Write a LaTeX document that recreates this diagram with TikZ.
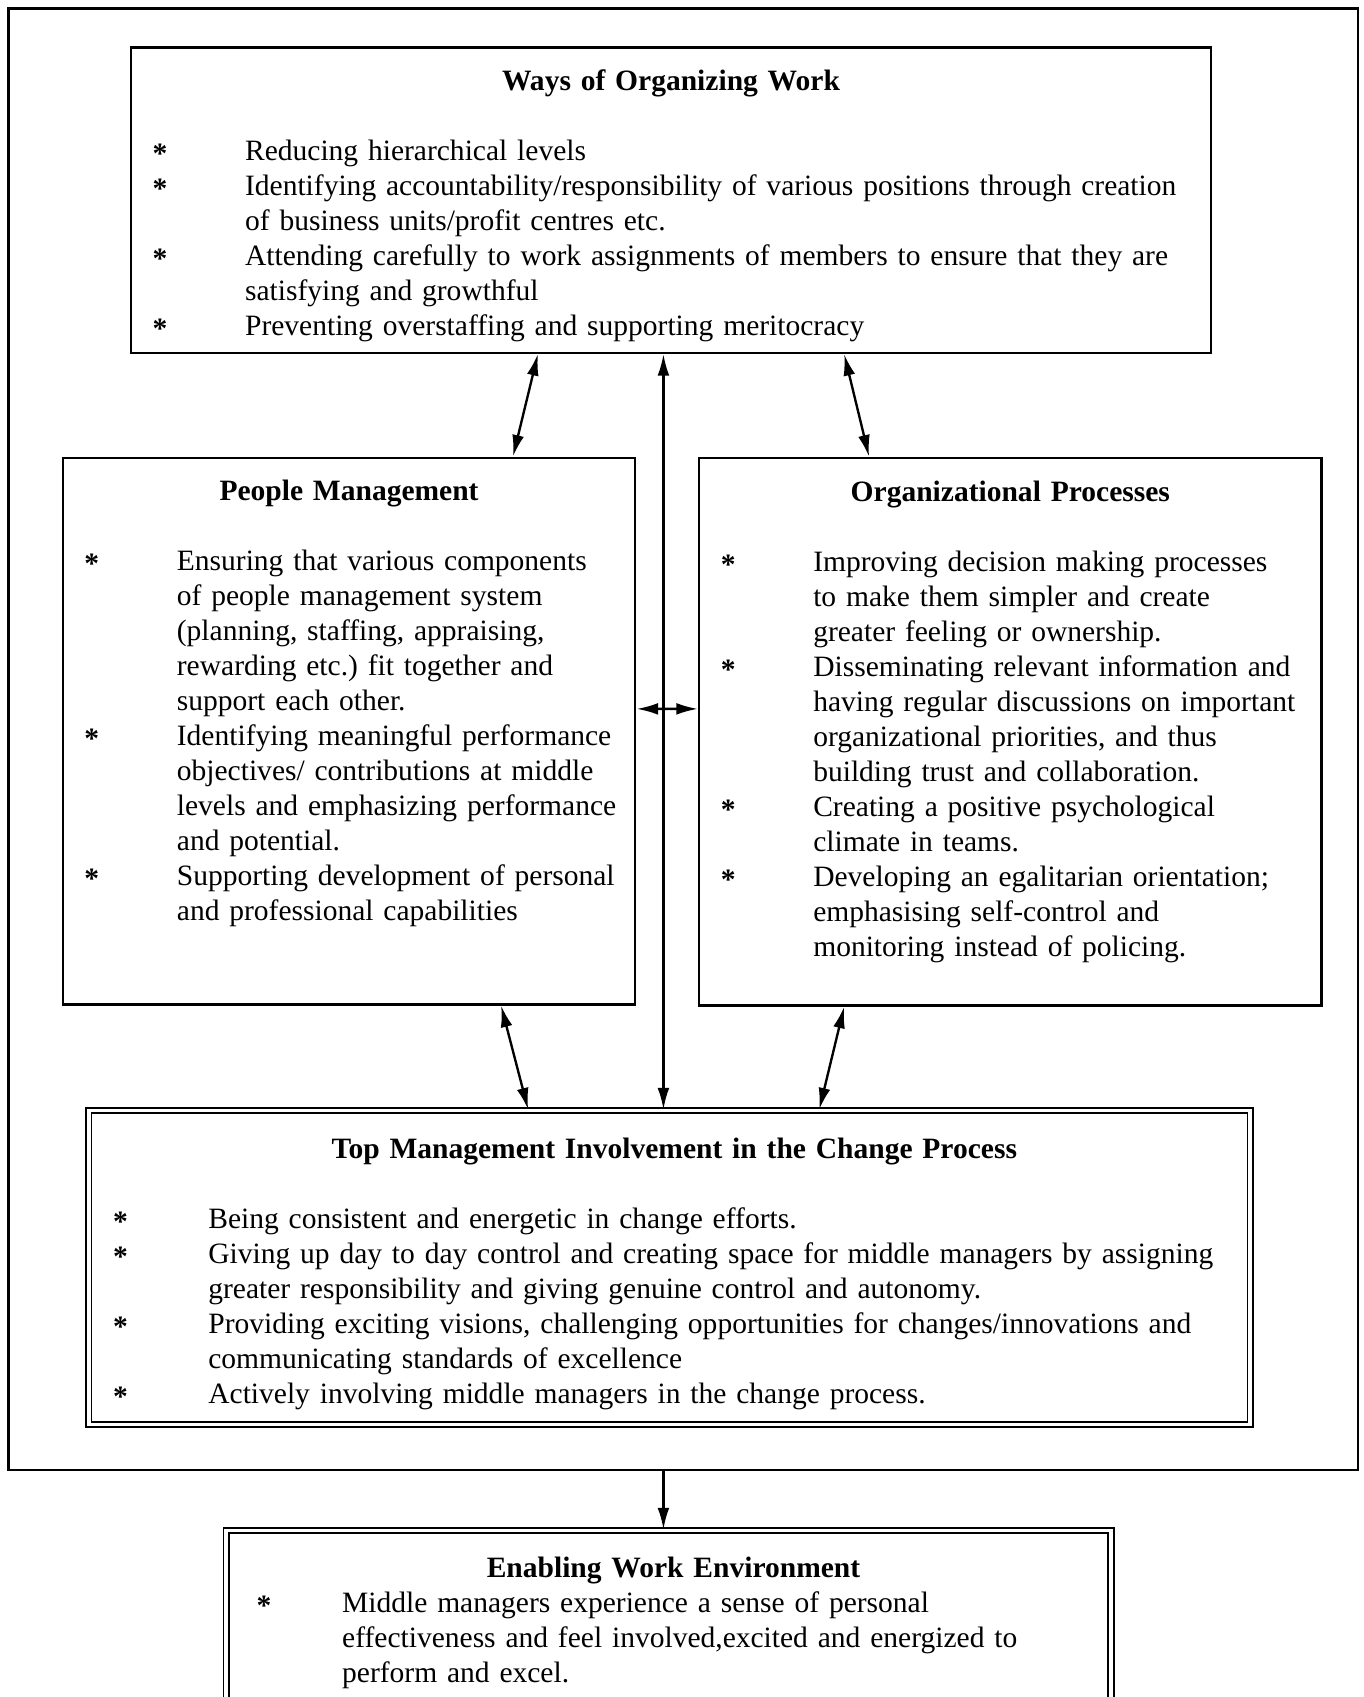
\documentclass[tikz,border=0pt]{standalone}
\usepackage{fontspec}
\setmainfont{Liberation Serif}
\usetikzlibrary{arrows.meta,calc,fit}

\newlength{\bulletshift}
\newlength{\bullethang}
\setlength{\bulletshift}{11pt}
\setlength{\bullethang}{47pt}
\newcommand{\boxhead}[1]{{\centering\strut\textbf{#1}\par}}
\newcommand{\bitem}[1]{{\leftskip=\bulletshift\hangindent=\bullethang\hangafter=1\noindent\makebox[\bullethang][l]{\raisebox{-1.5pt}{\textbf{*}}}#1\par}}

\begin{document}
\begin{tikzpicture}[
    x=0.55pt, y=-0.55pt,
    >={Latex[length=11pt,width=6pt]},
    block/.style={draw, line width=1.2pt, inner sep=0pt},
    dblock/.style={draw, double, double distance=1.8pt, line width=0.9pt, inner sep=0pt},
    body/.style={anchor=north, inner sep=0pt, align=left, font=\fontsize{15pt}{17.8pt}\selectfont},
    link/.style={<->, line width=1.2pt}
]
    \useasboundingbox (0,0) rectangle (1260,1568);
    \clip (0,0) rectangle (1260,1568);

    % Outer frame
    \node[block, fit={(8,8) (1255,1358)}] (frame) {};

    % Ways of organizing work
    \node[block, fit={(121,44) (1119,326)}] (ways) {};
    \node[body, text width=548.9pt] (waystext) at (620,60.4) {
        \boxhead{Ways of Organizing Work}
        \vspace{\baselineskip}
        \bitem{Reducing hierarchical levels}
        \bitem{Identifying accountability/responsibility of various positions through creation\newline of business units/profit centres etc.}
        \bitem{Attending carefully to work assignments of members to ensure that they are\newline satisfying and growthful}
        \bitem{Preventing overstaffing and supporting meritocracy}
    };

    % People management
    \node[block, fit={(58,423) (587,928)}] (people) {};
    \node[body, text width=290.95pt] (peopletext) at (322.5,439.4) {
        \boxhead{People Management}
        \vspace{\baselineskip}
        \bitem{Ensuring that various components\newline of people management system\newline (planning, staffing, appraising,\newline rewarding etc.)\ fit together and\newline support each other.}
        \bitem{Identifying meaningful performance\newline objectives/ contributions at middle\newline levels and emphasizing performance\newline and potential.}
        \bitem{Supporting development of personal\newline and professional capabilities}
    };

    % Organizational processes
    \node[block, fit={(646,423) (1221,929)}] (org) {};
    \node[body, text width=316.25pt] (orgtext) at (933.5,440) {
        \boxhead{Organizational Processes}
        \vspace{\baselineskip}
        \bitem{Improving decision making processes\newline to make them simpler and create\newline greater feeling or ownership.}
        \bitem{Disseminating relevant information and\newline having regular discussions on important\newline organizational priorities, and thus\newline building trust and collaboration.}
        \bitem{Creating a positive psychological\newline climate in teams.}
        \bitem{Developing an egalitarian orientation;\newline emphasising self-control and\newline monitoring instead of policing.}
    };

    % Top management
    \node[dblock, fit={(82,1026) (1155,1316)}] (tm) {};
    \node[body, text width=594pt] (tmtext) at (618.5,1047.4) {
        \setlength{\bulletshift}{14.3pt}\setlength{\bullethang}{48.4pt}
        \boxhead{Top Management Involvement in the Change Process}
        \vspace{\baselineskip}
        \bitem{Being consistent and energetic in change efforts.}
        \bitem{Giving up day to day control and creating space for middle managers by assigning\newline greater responsibility and giving genuine control and autonomy.}
        \bitem{Providing exciting visions, challenging opportunities for changes/innovations and\newline communicating standards of excellence}
        \bitem{Actively involving middle managers in the change process.}
    };

    % Enabling work environment
    \node[dblock, fit={(209,1414) (1026.5,1600)}] (enabling) {};
    \node[body, text width=452.65pt] (enablingtext) at (617.75,1434.4) {
        \setlength{\bulletshift}{17pt}\setlength{\bullethang}{43.45pt}
        \boxhead{Enabling Work Environment}
        \bitem{Middle managers experience a sense of personal\newline effectiveness and feel involved,excited and energized to\newline perform and excel.}
    };

    % Links
    \draw[link] ($(ways.south)+(-123,0)$) -- ($(people.north)+(151.5,0)$);
    \draw[link] ($(ways.south)+(160,0)$) -- ($(org.north)+(-130.5,0)$);
    \draw[link] ($(ways.south)+(-7,0)$) -- ($(tm.north)+(-5.5,0)$);
    \draw[link] ($(people.east)+(0,-20.5)$) -- ($(org.west)+(0,-21)$);
    \draw[link] ($(people.south)+(140.5,0)$) -- ($(tm.north)+(-130.5,0)$);
    \draw[link] ($(org.south)+(-153.5,0)$) -- ($(tm.north)+(138.5,0)$);
    \draw[->, line width=1.2pt] ($(frame.south)+(-18.5,0)$) -- ($(enabling.north)+(-4.75,0)$);
\end{tikzpicture}
\end{document}
